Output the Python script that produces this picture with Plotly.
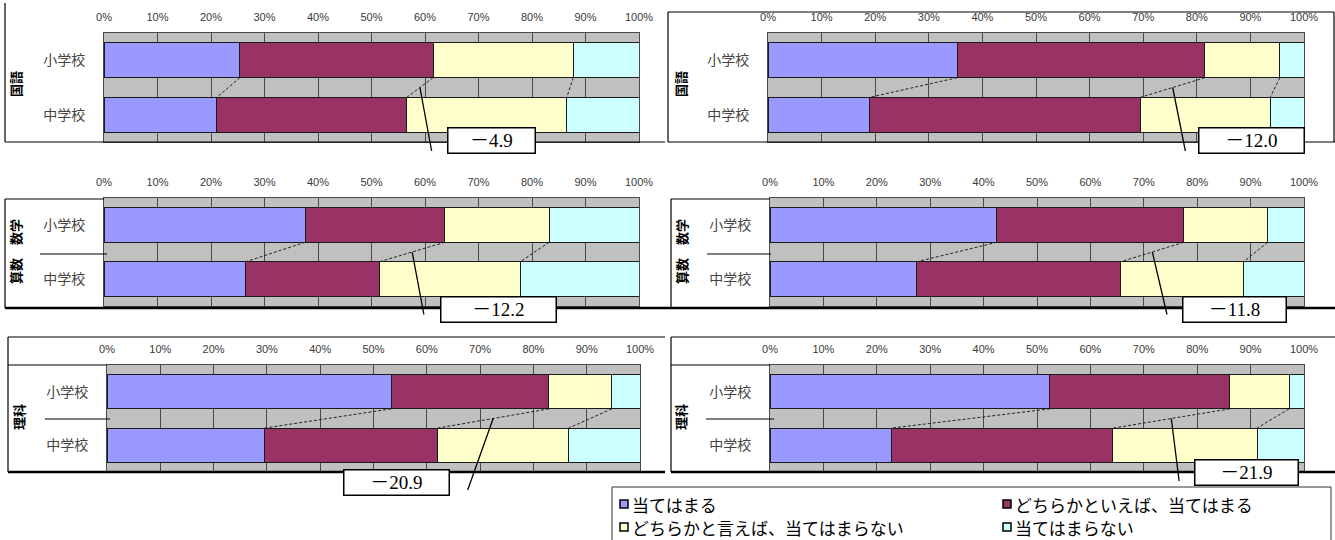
import plotly.graph_objects as go
import numpy as np

W, H = 1335, 540

# ---------------- data ----------------
categories = ['小学校', '中学校']
series_names = ['当てはまる', 'どちらかといえば、当てはまる',
                'どちらかと言えば、当てはまらない', '当てはまらない']
series_colors = ['#9999FF', '#993366', '#FFFFCC', '#CCFFFF']
tick_values = [0, 10, 20, 30, 40, 50, 60, 70, 80, 90, 100]
tick_labels = ['0%', '10%', '20%', '30%', '40%', '50%', '60%', '70%', '80%', '90%', '100%']

subject_labels = ['国語', '国語', '算数　数学', '算数　数学', '理科', '理科']
diff_labels = ['－4.9', '－12.0', '－12.2', '－11.8', '－20.9', '－21.9']

# values per series (当てはまる, どちらかといえば当てはまる, どちらかと言えば当てはまらない, 当てはまらない)
kokugo_a_elem = [25.4, 36.1, 26.2, 12.3]
kokugo_a_junior = [21.1, 35.5, 29.9, 13.5]
kokugo_b_elem = [35.3, 46.2, 14.0, 4.5]
kokugo_b_junior = [19.0, 50.5, 24.2, 6.3]
math_a_elem = [37.6, 26.1, 19.5, 16.8]
math_a_junior = [26.5, 25.0, 26.3, 22.2]
math_b_elem = [42.5, 35.0, 15.7, 6.8]
math_b_junior = [27.5, 38.2, 23.0, 11.3]
science_a_elem = [53.3, 29.6, 11.8, 5.3]
science_a_junior = [29.5, 32.5, 24.6, 13.4]
science_b_elem = [52.4, 33.7, 11.1, 2.8]
science_b_junior = [22.7, 41.5, 27.0, 8.8]

panel_values = [
    (kokugo_a_elem, kokugo_a_junior),
    (kokugo_b_elem, kokugo_b_junior),
    (math_a_elem, math_a_junior),
    (math_b_elem, math_b_junior),
    (science_a_elem, science_a_junior),
    (science_b_elem, science_b_junior),
]

# ---------------- layout geometry (pixels) ----------------
def fx(px):
    return px / W


def fy(py):
    return 1 - py / H


# plot areas: (x0, x1, y0, y1) in pixels
panel_areas = [
    (104, 639, 33, 142),
    (768, 1304, 33, 142),
    (104, 639, 198, 306),
    (770, 1304, 198, 306),
    (107, 640, 365, 472),
    (770, 1304, 365, 472),
]
# callout tail offsets (pixels) relative to point on series line
callout_offsets = [(12, 65), (13, 65), (12, 64), (15, 64), (-26, 73), (8, 64)]
# diff boxes: (cx, cy, w, h) pixels
diff_boxes = [
    (491, 140, 88, 26),
    (1251, 140, 106, 26),
    (498, 309, 116, 26),
    (1234, 309, 104, 26),
    (396, 482, 106, 26),
    (1246, 472, 104, 26),
]
# subject label positions (pixels)
subject_pos = [(15, 84), (680, 84), (15, 252), (681, 252), (18, 417), (680, 417)]

BAR_W = 0.64
CAT_POS = [0, 1]

fig = go.Figure()
layout_axes = {}
annotations = []
shapes = []

for i, (area, (el, jh)) in enumerate(zip(panel_areas, panel_values)):
    n = i + 1
    sfx = '' if n == 1 else str(n)
    xa, ya = 'x' + sfx, 'y' + sfx
    for s in range(len(series_names)):
        fig.add_trace(go.Bar(
            orientation='h', y=CAT_POS, x=[el[s], jh[s]], width=BAR_W,
            marker=dict(color=series_colors[s], line=dict(color='#1a1a1a', width=1)),
            name=series_names[s], showlegend=False, xaxis=xa, yaxis=ya,
            hoverinfo='skip'))
    cum_el = np.cumsum(el)
    cum_jh = np.cumsum(jh)
    y_top = CAT_POS[0] + BAR_W / 2
    y_bot = CAT_POS[1] - BAR_W / 2
    for s in range(len(series_names) - 1):
        fig.add_trace(go.Scatter(
            x=[cum_el[s], cum_jh[s]], y=[y_top, y_bot], mode='lines',
            line=dict(color='#222222', width=1, dash='3px,2px'),
            showlegend=False, xaxis=xa, yaxis=ya, hoverinfo='skip'))

    x0, x1, y0, y1 = area
    layout_axes['xaxis' + sfx] = dict(
        domain=[fx(x0), fx(x1)], anchor=ya, range=[0, 100], side='top',
        tickvals=tick_values, ticktext=tick_labels, automargin=False,
        showgrid=True, gridcolor='#4a4a4a', gridwidth=1,
        showline=True, linecolor='#4a4a4a', linewidth=1, mirror=True,
        zeroline=False, ticks='', ticklabelstandoff=7,
        tickfont=dict(family='Liberation Sans', size=11, color='#3a3a3a'),
        fixedrange=True)
    layout_axes['yaxis' + sfx] = dict(
        domain=[fy(y1), fy(y0)], anchor=xa, range=[1.5, -0.5],
        tickvals=CAT_POS, ticktext=categories, showgrid=False, automargin=False,
        showline=True, linecolor='#4a4a4a', linewidth=1, mirror=True,
        zeroline=False, ticks='', ticklabelstandoff=15,
        tickfont=dict(family='Noto Sans CJK JP', size=14, color='#444444'),
        fixedrange=True)

    # callout line from middle of the "どちらかといえば" series line
    mx = (cum_el[1] + cum_jh[1]) / 2
    ax_off, ay_off = callout_offsets[i]
    annotations.append(dict(
        x=mx, y=0.5, xref=xa, yref=ya, text='', showarrow=True,
        arrowhead=0, arrowwidth=1.3, arrowcolor='#000000',
        ax=ax_off, ay=ay_off))

    # difference box
    cx, cy, bw, bh = diff_boxes[i]
    annotations.append(dict(
        x=fx(cx), y=fy(cy), xref='paper', yref='paper', xanchor='center',
        yanchor='middle', text=diff_labels[i], showarrow=False,
        width=bw - 4, height=bh - 4, align='center', valign='middle',
        bordercolor='#000000', borderwidth=1.5, borderpad=1, bgcolor='#ffffff',
        font=dict(family='Liberation Serif, Noto Sans CJK JP', size=19,
                  color='#000000')))

    # subject label (rotated)
    sx, sy = subject_pos[i]
    annotations.append(dict(
        x=fx(sx), y=fy(sy), xref='paper', yref='paper', xanchor='center',
        yanchor='middle', text='<b>' + subject_labels[i] + '</b>',
        textangle=-90, showarrow=False,
        font=dict(family='Noto Sans CJK JP', size=13, color='#000000')))


# ---------------- frames ----------------
def hline(xa_, xb_, y_, w=1.2):
    shapes.append(dict(type='line', xref='paper', yref='paper',
                       x0=fx(xa_), x1=fx(xb_), y0=fy(y_), y1=fy(y_),
                       line=dict(color='#000000', width=w)))


def vline(x_, ya_, yb_, w=1.2):
    shapes.append(dict(type='line', xref='paper', yref='paper',
                       x0=fx(x_), x1=fx(x_), y0=fy(ya_), y1=fy(yb_),
                       line=dict(color='#000000', width=w)))


# row 1
vline(5, 3, 142)
hline(5, 665, 142)
hline(668, 1334, 12)
vline(668, 12, 142)
vline(1334, 12, 142)
hline(668, 1335, 142)
# row 2
hline(5, 104, 199)
vline(5, 199, 308)
hline(671, 770, 199)
vline(671, 199, 308)
hline(5, 1335, 308, w=2.5)
hline(40, 107, 254)
hline(707, 771, 254)
# row 3
hline(8, 665, 337)
vline(8, 337, 472)
hline(8, 107, 365)
hline(8, 665, 472, w=2.5)
hline(45, 110, 419)
hline(671, 1335, 337)
vline(671, 337, 472)
hline(671, 770, 365)
hline(671, 1335, 472, w=2.5)
hline(706, 774, 419)

# ---------------- legend (built from series lists) ----------------
shapes.append(dict(type='rect', xref='paper', yref='paper',
                   x0=fx(612), x1=fx(1331), y0=fy(560), y1=fy(487),
                   line=dict(color='#333333', width=1), fillcolor='#ffffff'))
legend_cols = [620, 1003]
legend_rows = [504, 527]
for k, (nm, col) in enumerate(zip(series_names, series_colors)):
    lx = legend_cols[k % 2]
    ly = legend_rows[k // 2]
    shapes.append(dict(type='rect', xref='paper', yref='paper',
                       x0=fx(lx), x1=fx(lx + 8), y0=fy(ly + 4), y1=fy(ly - 4),
                       line=dict(color='#000000', width=1.5), fillcolor=col))
    annotations.append(dict(
        x=fx(lx + 10), y=fy(ly), xref='paper', yref='paper', xanchor='left',
        yanchor='middle', text=nm, showarrow=False,
        font=dict(family='Noto Sans CJK JP', size=17, color='#000000')))

fig.update_layout(
    width=W, height=H, margin=dict(l=0, r=0, t=0, b=0, autoexpand=False),
    paper_bgcolor='#ffffff', plot_bgcolor='#C0C0C0',
    barmode='stack', showlegend=False,
    annotations=annotations, shapes=shapes,
    **layout_axes)

fig.write_html('out.html')
